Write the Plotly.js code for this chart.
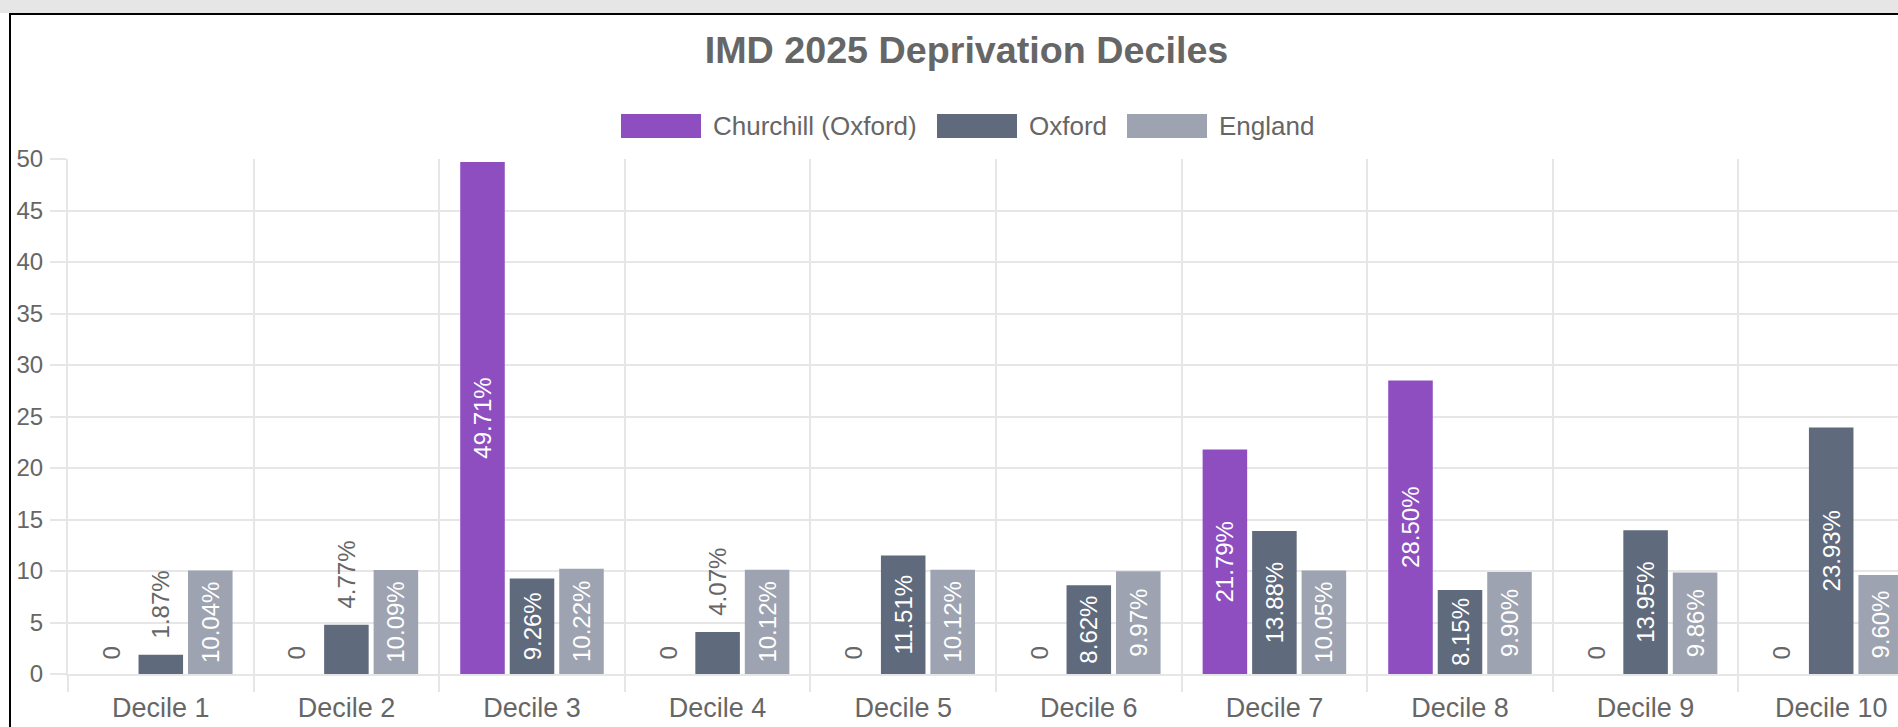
<!DOCTYPE html>
<html>
<head>
<meta charset="utf-8">
<script src="https://cdn.plot.ly/plotly-3.0.1.min.js"></script>
<style>
  html, body { margin: 0; padding: 0; background: #ffffff; overflow: hidden; width: 1898px; height: 727px; }
  #band { position: absolute; left: 0; top: 0; width: 1898px; height: 13px; background: #e6e6e6; }
  #frame { position: absolute; left: 9px; top: 13px; width: 2000px; height: 800px; border-left: 2px solid #000; border-top: 2px solid #000; }
  #chart { position: absolute; left: 11px; top: 15px; }
</style>
</head>
<body>
<div id="band"></div>
<div id="frame"></div>
<div id="chart"></div>
<script>
// ---- data ----
var categories = ["Decile 1", "Decile 2", "Decile 3", "Decile 4", "Decile 5", "Decile 6", "Decile 7", "Decile 8", "Decile 9", "Decile 10"];
var seriesNames = ["Churchill (Oxford)", "Oxford", "England"];
var churchill = [0, 0, 49.71, 0, 0, 0, 21.79, 28.50, 0, 0];
var oxford = [1.87, 4.77, 9.26, 4.07, 11.51, 8.62, 13.88, 8.15, 13.95, 23.93];
var england = [10.04, 10.09, 10.22, 10.12, 10.12, 9.97, 10.05, 9.90, 9.86, 9.60];
var yTicks = [0, 5, 10, 15, 20, 25, 30, 35, 40, 45, 50];

// ---- style ----
var colors = ["#8e4ec0", "#5f6a7c", "#9da3b0"];
var FONT = "Liberation Sans, Arial, Helvetica, sans-serif";
var GRID = "#e6e6e6";
var TXT = "#666666";

// geometry of the chart (page pixels)
var divLeft = 11, divTop = 15;
var plotLeft = 68, plotRight = 1924, plotTop = 159, plotBottom = 674;
var W = plotRight - divLeft + 20;
var H = 715;
var mL = plotLeft - divLeft, mR = W - (plotRight - divLeft), mT = plotTop - divTop, mB = H - (plotBottom - divTop);

function label(v) { return v === 0 ? "0" : v.toFixed(2) + "%"; }
function makeTrace(name, vals, color) {
  var pos = vals.map(function (v) { return v < 6 ? "outside" : "inside"; });
  var txt = vals.map(function (v, i) {
    if (pos[i] !== "outside") return label(v);
    if (v === 0) return "\u00a0\u2009" + label(v);
    return "\u00a0\u00a0" + label(v);
  });
  var tcol = pos.map(function (p) { return p === "outside" ? TXT : "#ffffff"; });
  return {
    type: "bar",
    name: name,
    x: categories,
    y: vals,
    marker: { color: color, line: { width: 0 } },
    text: txt,
    textposition: pos,
    textangle: -90,
    insidetextanchor: "middle",
    constraintext: "none",
    cliponaxis: false,
    textfont: { family: FONT, size: 24, color: tcol },
    hoverinfo: "skip",
    showlegend: false
  };
}

var traces = [
  makeTrace(seriesNames[0], churchill, colors[0]),
  makeTrace(seriesNames[1], oxford, colors[1]),
  makeTrace(seriesNames[2], england, colors[2])
];

// custom legend (large colour boxes like the original)
function px(x) { return (x - plotLeft) / (plotRight - plotLeft); }
function py(y) { return (plotBottom - y) / (plotBottom - plotTop); }
var legendBoxes = [621, 937, 1127];
var legendTexts = [711, 1027, 1217];
var legTop = 114, legBottom = 138, legMid = 126;
var shapes = [], annotations = [];
seriesNames.forEach(function (n, i) {
  shapes.push({
    type: "rect", xref: "paper", yref: "paper",
    x0: px(legendBoxes[i]), x1: px(legendBoxes[i] + 80),
    y0: py(legBottom), y1: py(legTop),
    fillcolor: colors[i], line: { width: 0 }
  });
  annotations.push({
    xref: "paper", yref: "paper", x: px(legendTexts[i]), y: py(legMid),
    xanchor: "left", yanchor: "middle", showarrow: false,
    text: n, font: { family: FONT, size: 26, color: TXT }
  });
});

var layout = {
  width: W,
  height: H,
  margin: { l: mL, r: mR, t: mT, b: mB, pad: 0 },
  paper_bgcolor: "#ffffff",
  plot_bgcolor: "#ffffff",
  font: { family: FONT, color: TXT },
  title: {
    text: "<b>IMD 2025 Deprivation Deciles</b>",
    font: { family: FONT, size: 37.7, color: TXT },
    xref: "paper", x: px(966.5), xanchor: "center",
    yref: "container", y: 1 - (50 - divTop) / H, yanchor: "middle"
  },
  showlegend: false,
  barmode: "group",
  bargap: 0.2,
  bargroupgap: 0.1,
  xaxis: {
    type: "category",
    tickson: "boundaries",
    showgrid: true, gridcolor: GRID, gridwidth: 2,
    ticks: "outside", ticklen: 16, tickcolor: GRID, tickwidth: 2,
    showline: true, linecolor: GRID, linewidth: 2,
    tickfont: { family: FONT, size: 27, color: TXT },
    ticklabelstandoff: 9,
    fixedrange: true
  },
  yaxis: {
    range: [0, 50],
    tickvals: yTicks,
    ticktext: yTicks.map(String),
    showgrid: true, gridcolor: GRID, gridwidth: 2,
    zeroline: false,
    ticks: "outside", ticklen: 16, tickcolor: GRID, tickwidth: 2,
    showline: true, linecolor: GRID, linewidth: 2,
    tickfont: { family: FONT, size: 24, color: TXT },
    ticklabelstandoff: 2,
    fixedrange: true
  },
  shapes: shapes,
  annotations: annotations
};

Plotly.newPlot("chart", traces, layout, { staticPlot: true, displayModeBar: false, responsive: false });
</script>
</body>
</html>
